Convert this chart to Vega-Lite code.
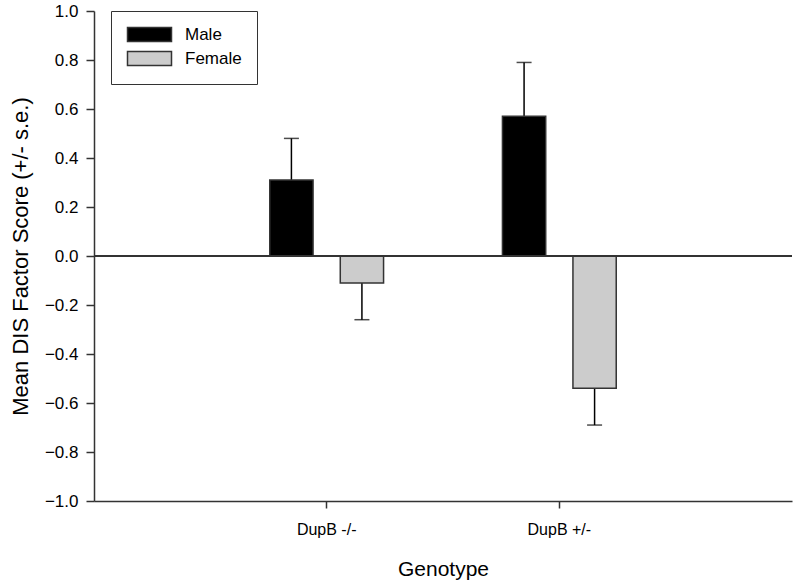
{
  "$schema": "https://vega.github.io/schema/vega-lite/v6.json",
  "width": 698,
  "height": 490,
  "autosize": {"type": "none"},
  "padding": {"left": 94, "top": 11, "right": 6, "bottom": 87},
  "config": {
    "view": {"stroke": null},
    "font": "Liberation Sans",
    "axis": {"grid": false, "domainColor": "#333333", "domainWidth": 1.5, "tickColor": "#333333", "tickWidth": 1.5, "labelColor": "#000000", "titleColor": "#000000", "titleFontWeight": "normal"}
  },
  "data": {
    "values": [
      {"genotype": "DupB -/-", "sex": "Male", "mean": 0.31, "err": 0.48},
      {"genotype": "DupB -/-", "sex": "Female", "mean": -0.11, "err": -0.26},
      {"genotype": "DupB +/-", "sex": "Male", "mean": 0.57, "err": 0.79},
      {"genotype": "DupB +/-", "sex": "Female", "mean": -0.54, "err": -0.69}
    ]
  },
  "layer": [
    {
      "mark": {"type": "rule", "color": "#000000", "strokeWidth": 1.5},
      "encoding": {
        "x": {"field": "genotype", "type": "nominal", "sort": ["DupB -/-", "DupB +/-"], "scale": {"paddingInner": 0, "paddingOuter": 0.5},
          "axis": {"title": "Genotype", "labelAngle": 0, "labelFontSize": 16, "labelPadding": 13, "tickSize": 7, "titleFontSize": 21, "titlePadding": 21}},
        "xOffset": {"field": "sex", "type": "nominal", "sort": ["Male", "Female"], "scale": {"paddingInner": 0.386, "paddingOuter": 0.843}},
        "y": {"field": "mean", "type": "quantitative", "scale": {"domain": [-1, 1], "nice": false},
          "axis": {"title": "Mean DIS Factor Score (+/- s.e.)", "values": [-1, -0.8, -0.6, -0.4, -0.2, 0, 0.2, 0.4, 0.6, 0.8, 1], "format": ".1f", "labelFontSize": 17, "labelPadding": 8, "tickSize": 8, "titleFontSize": 22, "titlePadding": 12}},
        "y2": {"field": "err"}
      }
    },
    {
      "mark": {"type": "tick", "color": "#000000", "thickness": 1.5, "size": 15},
      "encoding": {
        "x": {"field": "genotype", "type": "nominal", "sort": ["DupB -/-", "DupB +/-"]},
        "xOffset": {"field": "sex", "type": "nominal", "sort": ["Male", "Female"]},
        "y": {"field": "err", "type": "quantitative"}
      }
    },
    {
      "mark": {"type": "bar", "stroke": "#333333", "strokeWidth": 1.5, "opacity": 1},
      "encoding": {
        "x": {"field": "genotype", "type": "nominal", "sort": ["DupB -/-", "DupB +/-"]},
        "xOffset": {"field": "sex", "type": "nominal", "sort": ["Male", "Female"]},
        "y": {"field": "mean", "type": "quantitative"},
        "color": {"field": "sex", "type": "nominal", "sort": ["Male", "Female"],
          "scale": {"domain": ["Male", "Female"], "range": ["#000000", "#cccccc"]},
          "legend": {"title": null, "orient": "none", "legendX": 17, "legendY": 0, "padding": 15, "strokeColor": "#333333", "fillColor": "#ffffff",
            "symbolType": "M-1,-1H5.2857V1H-1Z", "symbolSize": 196, "symbolStrokeColor": "#333333", "symbolStrokeWidth": 1.5, "symbolOpacity": 1,
            "labelFontSize": 17, "labelColor": "#000000", "labelOffset": 42, "rowPadding": 3}}
      }
    },
    {
      "mark": {"type": "rule", "color": "#333333", "strokeWidth": 1.5},
      "encoding": {"y": {"datum": 0}}
    }
  ]
}
